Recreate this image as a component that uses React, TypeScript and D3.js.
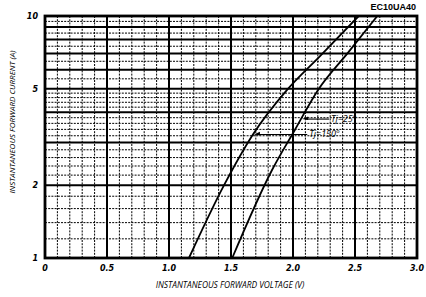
import React from "react";
import * as d3 from "d3";

// ---- data ----
const xTickLabels = ["0", "0.5", "1.0", "1.5", "2.0", "2.5", "3.0"];
const xMajor = [0, 0.5, 1.0, 1.5, 2.0, 2.5, 3.0];
const yMajor = [1, 2, 3, 4, 5, 6, 7, 8, 9, 10];
const yLabeled = [1, 2, 5, 10];
const yMinor = [1.2, 1.4, 1.6, 1.8, 2.2, 2.4, 2.6, 2.8, 3.2, 3.4, 3.6, 3.8, 4.2, 4.4, 4.6, 4.8, 5.5, 6.5, 7.5, 8.5, 9.5];

// Tj = 150°C (left curve): [voltage V, current A]
const tj150: [number, number][] = [
  [1.161, 1.0], [1.444, 2.0], [1.677, 3.24], [1.952, 4.95],
  [2.218, 6.83], [2.53, 10.0],
];
// Tj = 25°C (right curve)
const tj25: [number, number][] = [
  [1.51, 1.0], [1.831, 2.31], [2.016, 3.39], [2.202, 4.95],
  [2.444, 7.06], [2.68, 10.0],
];

const annLabels = ["Tj=25°", "Tj=150°"];
const annTipV = [2.066, 1.677];
const annTipI = [3.75, 3.24];
const annEndV = [2.29, 2.115];

const title = "EC10UA40";
const xTitle = "INSTANTANEOUS FORWARD VOLTAGE (V)";
const yTitle = "INSTANTANEOUS FORWARD CURRENT (A)";

export default function App() {
  const W = 426, H = 297;
  const left = 45, right = 417, top = 16, bottom = 258;
  const x = d3.scaleLinear().domain([0, 3]).range([left, right]);
  const y = d3.scaleLog().domain([1, 10]).range([bottom, top]);

  const xMinor = d3.range(1, 30).map((k) => k / 10).filter((v) => Math.abs(v * 2 - Math.round(v * 2)) > 1e-6);

  const line = d3
    .line<[number, number]>()
    .x((d) => x(d[0]))
    .y((d) => y(d[1]))
    .curve(d3.curveMonotoneX);

  const tickFont = "'DejaVu Sans', sans-serif";
  const labelFont = "'Open Sans', sans-serif";

  return (
    <svg width={W} height={H} style={{ position: "absolute", left: 0, top: 0, background: "#fff" }}>
      <rect x={0} y={0} width={W} height={H} fill="#fff" />
      <g stroke="#000" strokeWidth={1} strokeDasharray="2,1.2" fill="none">
        {xMinor.map((v, i) => (
          <line key={"xm" + i} x1={x(v)} x2={x(v)} y1={top} y2={bottom} />
        ))}
        {yMinor.map((v, i) => (
          <line key={"ym" + i} x1={left} x2={right} y1={y(v)} y2={y(v)} />
        ))}
      </g>
      <g stroke="#000" strokeWidth={2} fill="none">
        {xMajor.map((v, i) => (
          <line key={"xM" + i} x1={x(v)} x2={x(v)} y1={top} y2={bottom} />
        ))}
        {yMajor.map((v, i) => (
          <line key={"yM" + i} x1={left} x2={right} y1={y(v)} y2={y(v)} />
        ))}
      </g>
      <rect x={left} y={top} width={right - left} height={bottom - top} fill="none" stroke="#000" strokeWidth={2.8} />

      <path d={line(tj150) || ""} fill="none" stroke="#000" strokeWidth={1.8} />
      <path d={line(tj25) || ""} fill="none" stroke="#000" strokeWidth={1.8} />

      {annLabels.map((lab, i) => {
        const tx = x(annTipV[i]) + 1;
        const ty = y(annTipI[i]);
        const ex = x(annEndV[i]);
        return (
          <g key={"ann" + i}>
            <line x1={tx + 4} x2={ex} y1={ty} y2={ty} stroke="#000" strokeWidth={1.1} />
            <path d={`M${tx},${ty} L${tx + 6},${ty - 2.6} L${tx + 6},${ty + 1} Z`} fill="#000" />
            <text x={ex + 2} y={ty + 3} fontFamily={labelFont} fontStyle="italic" fontSize={9} fill="#000">
              {lab}
            </text>
          </g>
        );
      })}

      {xMajor.map((v, i) => (
        <text key={"xt" + i} x={x(v)} y={270.5} textAnchor="middle" fontFamily={tickFont} fontWeight="bold" fontStyle="italic" fontSize={8} fill="#000">
          {xTickLabels[i]}
        </text>
      ))}
      {yLabeled.map((v, i) => (
        <text key={"yt" + i} x={38} y={y(v) + 3} textAnchor="end" fontFamily={tickFont} fontWeight="bold" fontStyle="italic" fontSize={8} fill="#000">
          {String(v)}
        </text>
      ))}

      <text x={230} y={288} textAnchor="middle" fontFamily={labelFont} fontStyle="italic" fontSize={8.4} fill="#000">
        {xTitle}
      </text>
      <text transform={`translate(15,122) rotate(-90)`} textAnchor="middle" fontFamily={labelFont} fontStyle="italic" fontSize={8} fill="#000">
        {yTitle}
      </text>
      <text x={416} y={10} textAnchor="end" fontFamily="'Liberation Sans', Arial, sans-serif" fontWeight="bold" fontSize={9} fill="#000">
        {title}
      </text>
    </svg>
  );
}
